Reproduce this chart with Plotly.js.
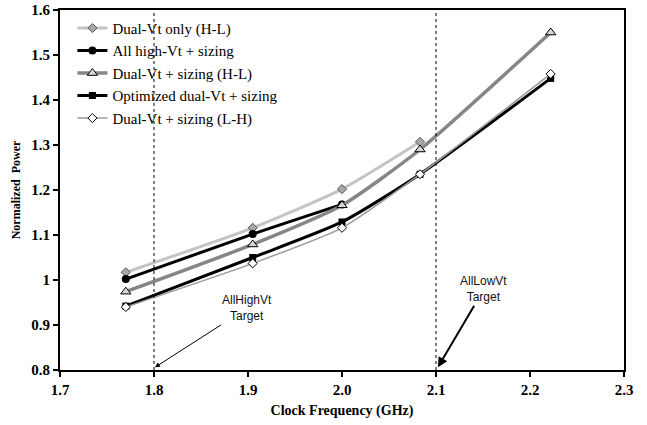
<!DOCTYPE html>
<html>
<head>
<meta charset="utf-8">
<script src="https://cdn.plot.ly/plotly-3.0.1.min.js"></script>
<style>
  html, body { margin: 0; padding: 0; background: #fff; }
  #chart { width: 647px; height: 425px; }
</style>
</head>
<body>
<div id="chart"></div>
<script>
// Clock frequency points (GHz)
const freq = [1.77, 1.905, 2.0, 2.083, 2.222];

// Normalized power per design approach
const dualVtOnlyHL      = [1.017, 1.116, 1.202, 1.307];
const allHighVtSizing   = [1.002, 1.102, 1.168];
const dualVtSizingHL    = [0.974, 1.079, 1.166, 1.290, 1.550];
const optimizedDualVt   = [0.942, 1.050, 1.129, 1.235, 1.448];
const dualVtSizingLH    = [0.940, 1.037, 1.116, 1.235, 1.458];

const seriesNames = [
  'Dual-Vt only (H-L)',
  'All high-Vt + sizing',
  'Dual-Vt + sizing (H-L)',
  'Optimized dual-Vt + sizing',
  'Dual-Vt + sizing (L-H)'
];

// Target frequencies for the all-high-Vt and all-low-Vt designs
const targetFreq = [1.8, 2.1];
const targetLabels = ['AllHighVt<br>Target', 'AllLowVt<br>Target'];

const yTicks = [0.8, 0.9, 1.0, 1.1, 1.2, 1.3, 1.4, 1.5, 1.6];
const xTicks = [1.7, 1.8, 1.9, 2.0, 2.1, 2.2, 2.3];

const serif = "'Liberation Serif', 'Times New Roman', serif";
const sans = "'Liberation Sans', Arial, sans-serif";

function series(name, ys, lineColor, lineWidth, marker) {
  return {
    x: freq.slice(0, ys.length),
    y: ys,
    name: name,
    type: 'scatter',
    mode: 'lines+markers',
    line: { color: lineColor, width: lineWidth, shape: 'spline', smoothing: 0.6 },
    marker: marker
  };
}

const traces = [
  series(seriesNames[0], dualVtOnlyHL, '#c4c4c4', 3,
    { symbol: 'diamond', size: 7, color: '#a8a8a8', line: { color: '#555', width: 1 } }),
  series(seriesNames[1], allHighVtSizing, '#000', 3,
    { symbol: 'circle', size: 8, color: '#000' }),
  series(seriesNames[2], dualVtSizingHL, '#868686', 3.5,
    { symbol: 'triangle-up', size: 9, color: '#d6d6d6', line: { color: '#000', width: 1 } }),
  series(seriesNames[3], optimizedDualVt, '#000', 3,
    { symbol: 'square', size: 7, color: '#000' }),
  series(seriesNames[4], dualVtSizingLH, '#9a9a9a', 1.5,
    { symbol: 'diamond', size: 7, color: '#fff', line: { color: '#000', width: 1 } })
];

const shapes = targetFreq.map(f => ({
  type: 'line', xref: 'x', yref: 'y',
  x0: f, x1: f, y0: yTicks[0], y1: yTicks[yTicks.length - 1],
  line: { color: '#000', width: 1, dash: 'dot' }
}));

const annotations = [
  {
    x: targetFreq[0] + 0.001, y: 0.806, xref: 'x', yref: 'y',
    text: targetLabels[0], showarrow: true,
    axref: 'pixel', ayref: 'pixel', ax: 92, ay: -59,
    arrowhead: 2, arrowsize: 1, arrowwidth: 1, arrowcolor: '#000',
    font: { family: sans, size: 12, color: '#111' }
  },
  {
    x: targetFreq[1] + 0.002, y: 0.806, xref: 'x', yref: 'y',
    text: targetLabels[1], showarrow: true,
    axref: 'pixel', ayref: 'pixel', ax: 46, ay: -78,
    arrowhead: 2, arrowsize: 1, arrowwidth: 2, arrowcolor: '#000',
    font: { family: sans, size: 12, color: '#111' }
  }
];

const tickFont = { family: serif, size: 15, color: '#000', weight: 700 };

const layout = {
  width: 647, height: 425,
  margin: { l: 60, r: 23, t: 10, b: 55 },
  paper_bgcolor: '#fff', plot_bgcolor: '#fff',
  showlegend: true,
  legend: {
    x: 0.022, y: 0.995, xanchor: 'left', yanchor: 'top',
    bgcolor: 'rgba(0,0,0,0)',
    font: { family: serif, size: 15, color: '#000' }
  },
  xaxis: {
    range: [xTicks[0], xTicks[xTicks.length - 1]],
    tickvals: xTicks, tickformat: '.1f',
    showgrid: false, zeroline: false,
    showline: true, mirror: true, linecolor: '#000', linewidth: 2,
    ticks: 'outside', ticklen: 5, tickwidth: 1.5, tickcolor: '#000',
    tickfont: tickFont,
    title: { text: 'Clock Frequency (GHz)', font: { family: serif, size: 14, color: '#000', weight: 700 }, standoff: 8 }
  },
  yaxis: {
    range: [yTicks[0], yTicks[yTicks.length - 1]],
    tickvals: yTicks,
    showgrid: false, zeroline: false,
    showline: true, mirror: true, linecolor: '#000', linewidth: 2,
    ticks: 'outside', ticklen: 5, tickwidth: 1.5, tickcolor: '#000',
    tickfont: tickFont,
    title: { text: 'Normalized\u00a0 Power', font: { family: serif, size: 12, color: '#000', weight: 700 }, standoff: 8 }
  },
  shapes: shapes,
  annotations: annotations
};

Plotly.newPlot('chart', traces, layout, { displayModeBar: false, staticPlot: true });
</script>
</body>
</html>
